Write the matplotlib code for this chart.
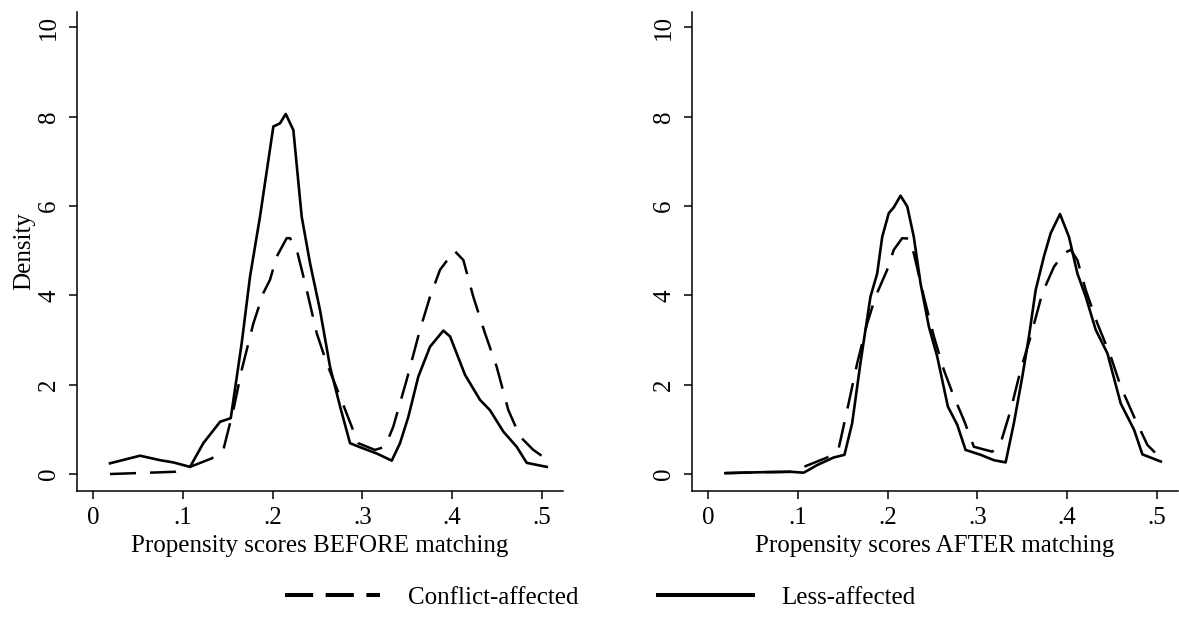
import matplotlib
matplotlib.use("Agg")
import matplotlib.pyplot as plt
from matplotlib.lines import Line2D

plt.rcParams['font.family'] = ['Liberation Serif', 'DejaVu Serif']

# Kernel density estimates
before_less_x = [0.0186, 0.0521, 0.0744, 0.0892, 0.1078, 0.1226, 0.1413, 0.1532, 0.1654, 0.1747,
                 0.1858, 0.2007, 0.2081, 0.2145, 0.2230, 0.2323, 0.2416, 0.2527, 0.2639, 0.2751,
                 0.2862, 0.2974, 0.3159, 0.3327, 0.3419, 0.3512, 0.3623, 0.3754, 0.3902, 0.3977,
                 0.4051, 0.4144, 0.4311, 0.4422, 0.4571, 0.4720, 0.4832, 0.5055]
before_less_y = [0.24, 0.41, 0.31, 0.26, 0.16, 0.69, 1.17, 1.25, 2.93, 4.42,
                 5.76, 7.78, 7.85, 8.06, 7.70, 5.76, 4.72, 3.67, 2.40, 1.51,
                 0.69, 0.60, 0.46, 0.30, 0.69, 1.28, 2.18, 2.85, 3.21, 3.08,
                 2.70, 2.22, 1.66, 1.43, 0.95, 0.61, 0.25, 0.16]

before_conf_x = [0.0186, 0.0911, 0.1078, 0.1320, 0.1449, 0.1561, 0.1654, 0.1784, 0.1895, 0.1970,
                 0.2045, 0.2156, 0.2193, 0.2268, 0.2379, 0.2491, 0.2602, 0.2751, 0.2881, 0.2954,
                 0.3140, 0.3252, 0.3344, 0.3494, 0.3642, 0.3754, 0.3865, 0.4025, 0.4125, 0.4236,
                 0.4367, 0.4497, 0.4627, 0.4757, 0.4905, 0.5055]
before_conf_y = [0.00, 0.05, 0.16, 0.35, 0.54, 1.43, 2.33, 3.37, 4.05, 4.35,
                 4.87, 5.28, 5.28, 5.02, 4.12, 3.15, 2.48, 1.73, 1.06, 0.69,
                 0.54, 0.61, 1.06, 2.11, 3.23, 3.97, 4.57, 5.00, 4.79, 3.97,
                 3.15, 2.40, 1.43, 0.84, 0.54, 0.33]

after_less_x = [0.0190, 0.0580, 0.0915, 0.1064, 0.1213, 0.1398, 0.1518, 0.1604, 0.1696, 0.1808,
                0.1883, 0.1939, 0.2012, 0.2068, 0.2143, 0.2218, 0.2291, 0.2366, 0.2459, 0.2552,
                0.2671, 0.2776, 0.2868, 0.3036, 0.3184, 0.3315, 0.3407, 0.3501, 0.3575, 0.3650,
                0.3742, 0.3817, 0.3921, 0.4021, 0.4115, 0.4208, 0.4319, 0.4450, 0.4598, 0.4747,
                0.4840, 0.5045]
after_less_y = [0.02, 0.04, 0.05, 0.03, 0.20, 0.37, 0.43, 1.14, 2.48, 3.97,
                4.49, 5.31, 5.84, 5.97, 6.23, 5.99, 5.31, 4.27, 3.30, 2.63,
                1.51, 1.10, 0.54, 0.43, 0.31, 0.26, 1.14, 2.18, 3.08, 4.12,
                4.87, 5.39, 5.82, 5.31, 4.49, 3.97, 3.23, 2.70, 1.58, 0.99,
                0.44, 0.28]

after_conf_x = [0.0190, 0.0580, 0.0915, 0.1064, 0.1325, 0.1454, 0.1548, 0.1660, 0.1771, 0.1864,
                0.1994, 0.2068, 0.2162, 0.2235, 0.2291, 0.2403, 0.2515, 0.2626, 0.2738, 0.2849,
                0.2961, 0.3166, 0.3259, 0.3371, 0.3482, 0.3594, 0.3724, 0.3854, 0.3965, 0.4040,
                0.4115, 0.4208, 0.4338, 0.4487, 0.4598, 0.4747, 0.4896, 0.5045]
after_conf_y = [0.02, 0.04, 0.05, 0.16, 0.37, 0.58, 1.43, 2.48, 3.37, 3.97,
                4.57, 5.02, 5.28, 5.27, 4.94, 3.97, 3.08, 2.33, 1.73, 1.21,
                0.61, 0.50, 0.69, 1.43, 2.33, 3.08, 4.05, 4.64, 4.94, 5.02,
                4.79, 4.12, 3.37, 2.63, 1.96, 1.28, 0.65, 0.35]

x_ticks = [0, 0.1, 0.2, 0.3, 0.4, 0.5]
x_tick_labels = ['0', '.1', '.2', '.3', '.4', '.5']
y_ticks = [0, 2, 4, 6, 8, 10]
panel_titles = ['Propensity scores BEFORE matching', 'Propensity scores AFTER matching']
legend_labels = ['Conflict-affected', 'Less-affected']

fs = 18
fig = plt.figure(figsize=(11.79, 6.35), dpi=100)
ax1 = fig.add_axes([0.0651, 0.2272, 0.4127, 0.7544])
ax2 = fig.add_axes([0.5867, 0.2272, 0.4127, 0.7544])

dash = (0, (10.4, 5.6))
panels = [
    (ax1, before_conf_x, before_conf_y, before_less_x, before_less_y, panel_titles[0]),
    (ax2, after_conf_x, after_conf_y, after_less_x, after_less_y, panel_titles[1]),
]
for ax, cx, cy, lx, ly, xlabel in panels:
    ax.plot(cx, cy, color='black', lw=1.8, linestyle=dash)
    ax.plot(lx, ly, color='black', lw=1.9)
    ax.set_xlim(-0.0185, 0.524)
    ax.set_ylim(-0.374, 10.35)
    ax.set_xticks(x_ticks)
    ax.set_xticklabels(x_tick_labels, fontsize=fs)
    ax.set_yticks(y_ticks)
    ax.set_yticklabels([str(v) for v in y_ticks], fontsize=fs, rotation=90, va='center')
    ax.tick_params(axis='both', length=6, width=1.1, color='black', pad=6)
    for s in ['top', 'right']:
        ax.spines[s].set_visible(False)
    for s in ['left', 'bottom']:
        ax.spines[s].set_linewidth(1.1)
    ax.set_xlabel(xlabel, fontsize=fs, labelpad=4)

ax1.set_ylabel('Density', fontsize=fs, labelpad=2)

handles = [
    Line2D([], [], color='black', lw=2.9, linestyle=(0, (7.0, 3.1))),
    Line2D([], [], color='black', lw=2.9),
]
fig.legend(handles, legend_labels, loc='center', bbox_to_anchor=(0.509, 0.0583),
           ncol=2, frameon=False, fontsize=fs, handlelength=3.8,
           handletextpad=1.1, columnspacing=3.2)

fig.savefig('out.png', dpi=100)
